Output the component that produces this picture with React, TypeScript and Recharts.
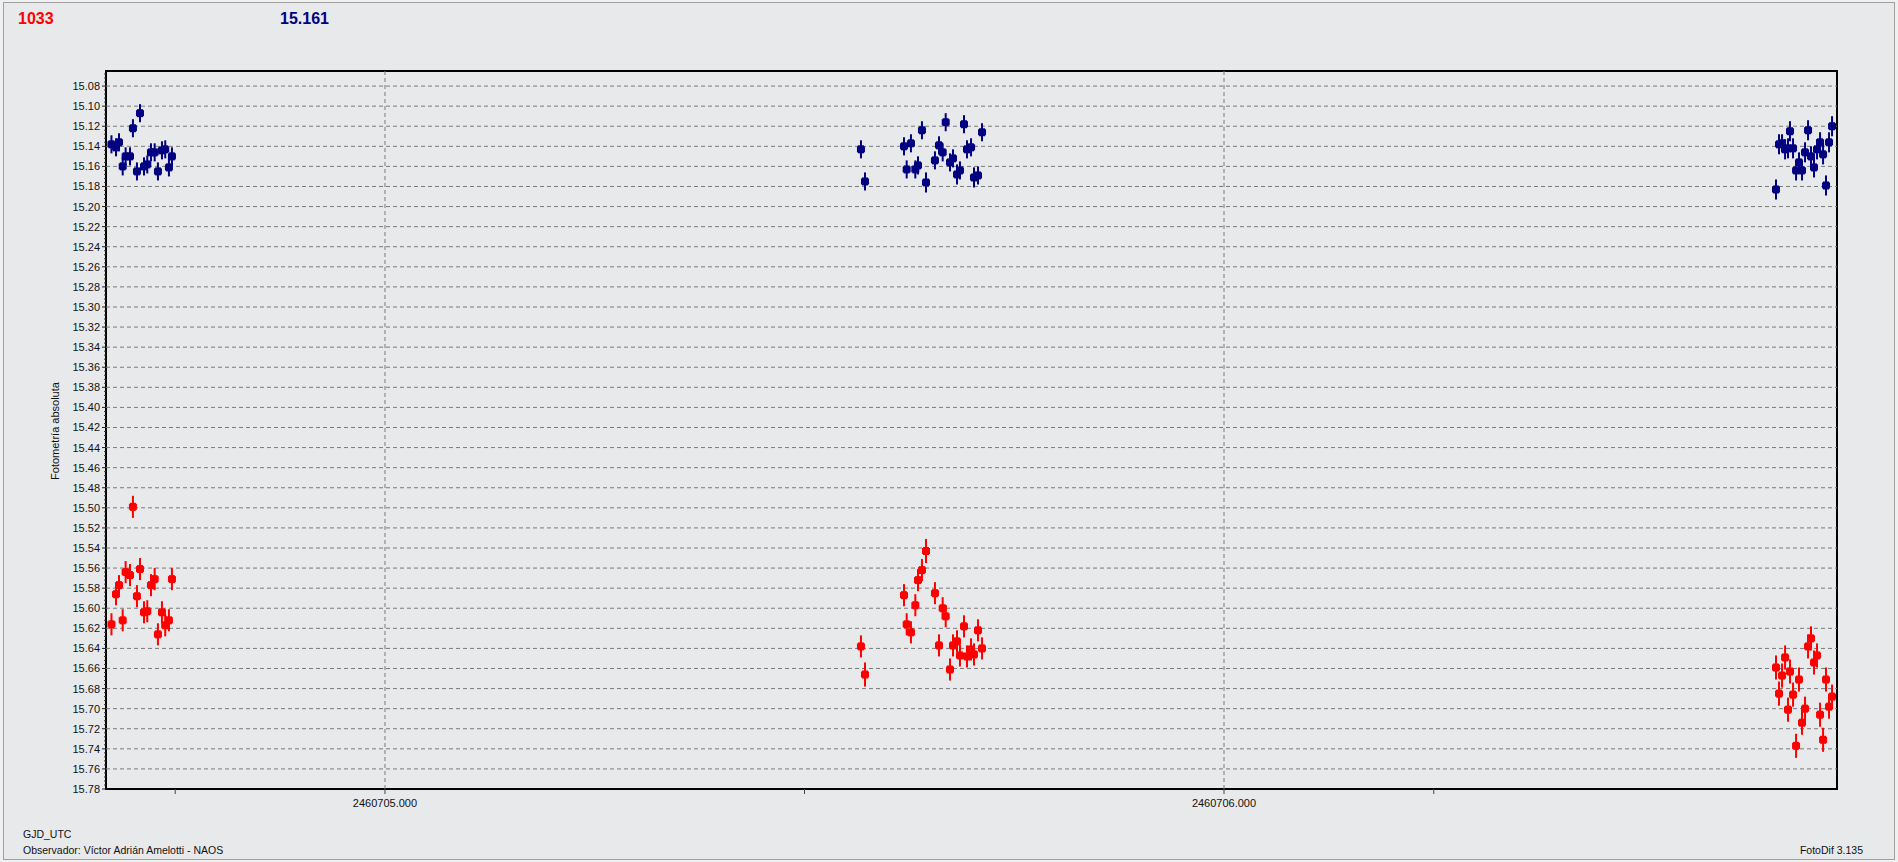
import React from 'react';
import { ScatterChart, Scatter, XAxis, YAxis, ErrorBar, ReferenceLine, ReferenceArea } from 'recharts';

// GJD_UTC of each frame (three nights)
const jd = [
  2460704.6740, 2460704.6794, 2460704.6830, 2460704.6874, 2460704.6909, 2460704.6961,
  2460704.6996, 2460704.7044, 2460704.7080, 2460704.7128, 2460704.7167, 2460704.7211,
  2460704.7255, 2460704.7294, 2460704.7342, 2460704.7381, 2460704.7425, 2460704.7461,
  2460705.5673, 2460705.5721, 2460705.6186, 2460705.6218, 2460705.6269, 2460705.6321,
  2460705.6353, 2460705.6400, 2460705.6448, 2460705.6555, 2460705.6603, 2460705.6647,
  2460705.6683, 2460705.6734, 2460705.6770, 2460705.6818, 2460705.6853, 2460705.6901,
  2460705.6937, 2460705.6985, 2460705.7020, 2460705.7068, 2460705.7116,
  2460706.6579, 2460706.6615, 2460706.6651, 2460706.6687, 2460706.6722, 2460706.6746,
  2460706.6782, 2460706.6818, 2460706.6853, 2460706.6889, 2460706.6925, 2460706.6961,
  2460706.6996, 2460706.7032, 2460706.7068, 2460706.7104, 2460706.7140, 2460706.7175,
  2460706.7211, 2460706.7247,
];

// navy series (15.161)
const magBlue = [
  15.138, 15.141, 15.136, 15.160, 15.150, 15.150, 15.122, 15.165, 15.107, 15.160,
  15.158, 15.146, 15.146, 15.165, 15.144, 15.143, 15.161, 15.150,
  15.143, 15.175, 15.140, 15.163, 15.137, 15.163, 15.159, 15.124, 15.176, 15.154,
  15.139, 15.146, 15.116, 15.156, 15.152, 15.168, 15.164, 15.118, 15.143, 15.141,
  15.171, 15.169, 15.126,
  15.183, 15.138, 15.137, 15.143, 15.142, 15.125, 15.142, 15.164, 15.156, 15.164,
  15.146, 15.124, 15.150, 15.161, 15.143, 15.136, 15.148, 15.179, 15.136, 15.120,
];

// red series (1033)
const magRed = [
  15.616, 15.586, 15.577, 15.612, 15.564, 15.567, 15.499, 15.588, 15.561, 15.604,
  15.603, 15.577, 15.571, 15.626, 15.604, 15.617, 15.612, 15.571,
  15.638, 15.666, 15.587, 15.616, 15.624, 15.597, 15.572, 15.562, 15.543, 15.585,
  15.637, 15.600, 15.608, 15.661, 15.637, 15.633, 15.647, 15.618, 15.648, 15.641,
  15.646, 15.622, 15.640,
  15.659, 15.685, 15.667, 15.649, 15.701, 15.663, 15.686, 15.737, 15.671, 15.714,
  15.700, 15.638, 15.630, 15.654, 15.647, 15.706, 15.731, 15.671, 15.698, 15.688,
];

const errBlue = [
  0.009, 0.009, 0.009, 0.009, 0.009, 0.009, 0.009, 0.009, 0.009, 0.009,
  0.009, 0.009, 0.009, 0.009, 0.009, 0.009, 0.009, 0.009,
  0.009, 0.009, 0.009, 0.009, 0.009, 0.009, 0.009, 0.009, 0.010, 0.009,
  0.009, 0.009, 0.009, 0.009, 0.009, 0.010, 0.009, 0.009, 0.009, 0.009,
  0.010, 0.009, 0.009,
  0.010, 0.010, 0.009, 0.010, 0.010, 0.010, 0.010, 0.010, 0.010, 0.010,
  0.010, 0.010, 0.010, 0.010, 0.010, 0.010, 0.010, 0.010, 0.010, 0.010,
];

const errRed = [
  0.011, 0.011, 0.010, 0.011, 0.011, 0.011, 0.011, 0.011, 0.011, 0.011,
  0.011, 0.011, 0.011, 0.011, 0.011, 0.011, 0.011, 0.011,
  0.011, 0.012, 0.011, 0.011, 0.011, 0.011, 0.011, 0.011, 0.012, 0.011,
  0.011, 0.011, 0.011, 0.011, 0.011, 0.011, 0.011, 0.011, 0.011, 0.011,
  0.011, 0.011, 0.011,
  0.012, 0.012, 0.012, 0.012, 0.012, 0.012, 0.012, 0.012, 0.012, 0.012,
  0.012, 0.012, 0.012, 0.012, 0.012, 0.012, 0.012, 0.012, 0.012, 0.012,
];

const yMajor = [
  15.08, 15.10, 15.12, 15.14, 15.16, 15.18, 15.20, 15.22, 15.24, 15.26, 15.28, 15.30,
  15.32, 15.34, 15.36, 15.38, 15.40, 15.42, 15.44, 15.46, 15.48, 15.50, 15.52, 15.54,
  15.56, 15.58, 15.60, 15.62, 15.64, 15.66, 15.68, 15.70, 15.72, 15.74, 15.76, 15.78,
];
const xTicks = [2460704.75, 2460705, 2460705.5, 2460706, 2460706.25];
const xLabelled = [2460705, 2460706];

const yMin = 15.065;
const yMax = 15.78;
const xMin = 2460704.6675;
const xMax = 2460706.7306;

// minor ticks every 0.004 on the magnitude axis
const yMinor: number[] = [];
for (let k = Math.ceil(yMin / 0.004); k * 0.004 <= yMax + 1e-9; k++) yMinor.push(Number((k * 0.004).toFixed(3)));
const yAllTicks = Array.from(new Set([...yMinor, ...yMajor])).sort((a, b) => a - b);

const blueRows = jd.map((x, i) => ({ jd: x, mag: magBlue[i], err: errBlue[i] }));
const redRows = jd.map((x, i) => ({ jd: x, mag: magRed[i], err: errRed[i] }));

const NAVY = '#000080';
const RED = '#ff0000';
const FONT = '"Liberation Sans", Arial, sans-serif';

const Dot = (props: any) => {
  const { cx, cy, fill } = props;
  if (cx == null || cy == null) return null;
  return (
    <g>
      <rect x={cx - 4} y={cy - 3} width={8} height={6} fill={fill} />
      <rect x={cx - 3} y={cy - 4} width={6} height={8} fill={fill} />
    </g>
  );
};

const YTick = (props: any) => {
  const { x, y, payload } = props;
  const v = payload.value;
  const major = yMajor.some((m) => Math.abs(m - v) < 1e-6);
  if (!major) return <line x1={x - 2} x2={x} y1={y} y2={y} stroke="#333" strokeWidth={1} />;
  return (
    <g>
      <line x1={x - 4} x2={x} y1={y} y2={y} stroke="#222" strokeWidth={1} />
      <text x={x - 6} y={y + 4} textAnchor="end" fontSize={11} fontFamily={FONT} fill="#111">
        {v.toFixed(2)}
      </text>
    </g>
  );
};

const XTick = (props: any) => {
  const { x, y, payload } = props;
  const v = payload.value;
  const labelled = xLabelled.includes(v);
  return (
    <g>
      <line x1={x} x2={x} y1={y} y2={y + 5} stroke="#444" strokeWidth={1} />
      {labelled && (
        <text x={x} y={y + 18} textAnchor="middle" fontSize={11} fontFamily={FONT} fill="#111">
          {v.toFixed(3)}
        </text>
      )}
    </g>
  );
};

export default function App() {
  return (
    <div style={{ position: 'absolute', left: 0, top: 0, width: 1898, height: 862, background: '#f0f0f0', fontFamily: FONT }}>
      <div style={{ position: 'absolute', left: 3, top: 2, width: 1890, height: 856, border: '1px solid #a0a0a0', background: '#e8e9eb' }} />

      <div style={{ position: 'absolute', left: 18, top: 9, fontSize: 16, fontWeight: 'bold', color: RED, lineHeight: '20px' }}>1033</div>
      <div style={{ position: 'absolute', left: 280, top: 9, fontSize: 16, fontWeight: 'bold', color: NAVY, lineHeight: '20px' }}>15.161</div>

      <div style={{ position: 'absolute', left: -45, top: 424, width: 200, textAlign: 'center', fontSize: 11, lineHeight: '14px', color: '#111', transform: 'rotate(-90deg)' }}>
        Fotometría absoluta
      </div>

      <div style={{ position: 'absolute', left: 23, top: 827, fontSize: 10.5, lineHeight: '14px', color: '#111' }}>GJD_UTC</div>
      <div style={{ position: 'absolute', left: 23, top: 843, fontSize: 10.5, lineHeight: '14px', color: '#111' }}>
        Observador: Víctor Adrián Amelotti - NAOS
      </div>
      <div style={{ position: 'absolute', right: 35, top: 843, fontSize: 10.5, lineHeight: '14px', color: '#111' }}>FotoDif 3.135</div>

      <div style={{ position: 'absolute', left: 0, top: 0 }}>
        <ScatterChart width={1898} height={862} margin={{ top: 71, right: 61, bottom: 43, left: 56 }}>
          <XAxis
            type="number"
            dataKey="jd"
            domain={[xMin, xMax]}
            allowDataOverflow
            ticks={xTicks}
            interval={0}
            height={30}
            tickSize={0}
            tickMargin={0}
            axisLine={false}
            tickLine={false}
            tick={<XTick />}
          />
          <YAxis
            type="number"
            dataKey="mag"
            domain={[yMin, yMax]}
            reversed
            allowDataOverflow
            ticks={yAllTicks}
            interval={0}
            width={50}
            tickSize={0}
            tickMargin={0}
            axisLine={false}
            tickLine={false}
            tick={<YTick />}
          />
          {yMajor.slice(0, -1).map((v) => (
            <ReferenceLine key={`h-${v}`} y={v} stroke="#7a7a7a" strokeDasharray="4 3" strokeWidth={1} />
          ))}
          {xLabelled.map((v) => (
            <ReferenceLine key={`v-${v}`} x={v} stroke="#7a7a7a" strokeDasharray="4 3" strokeWidth={1} />
          ))}
          <ReferenceArea x1={xMin} x2={xMax} y1={yMin} y2={yMax} fill="none" stroke="#000" strokeWidth={2} ifOverflow="visible" />
          <Scatter data={redRows} fill={RED} shape={<Dot />} isAnimationActive={false}>
            <ErrorBar dataKey="err" direction="y" width={0} stroke={RED} strokeWidth={2} isAnimationActive={false} />
          </Scatter>
          <Scatter data={blueRows} fill={NAVY} shape={<Dot />} isAnimationActive={false}>
            <ErrorBar dataKey="err" direction="y" width={0} stroke={NAVY} strokeWidth={2} isAnimationActive={false} />
          </Scatter>
        </ScatterChart>
      </div>
    </div>
  );
}
